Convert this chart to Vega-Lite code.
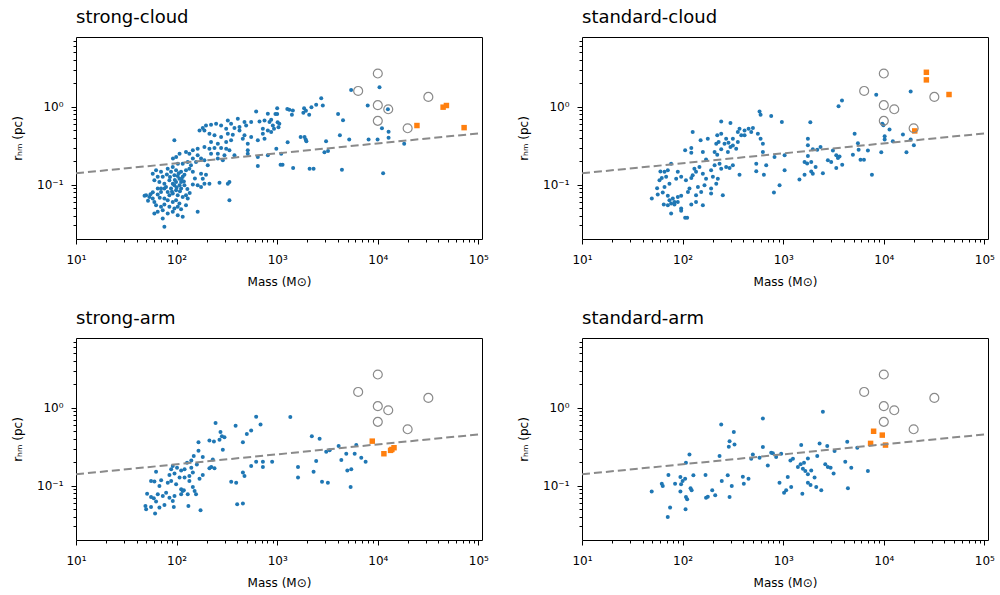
{
"$schema":"https://vega.github.io/schema/vega-lite/v6.json",
"background":"white",
"padding":{"left":11,"top":8,"right":5,"bottom":0},
"datasets":{
"obs":[{"M":6380,"r":1.6},{"M":10000,"r":2.68},{"M":10000,"r":1.05},{"M":10000,"r":0.66},{"M":12700,"r":0.93},{"M":19800,"r":0.53},{"M":31800,"r":1.34}],
"fit":[{"M":10,"r":0.14},{"M":108600,"r":0.46}],
"sim":[
{"p":"sc","k":"b","M":618,"r":0.871},{"p":"sc","k":"b","M":807,"r":0.813},{"p":"sc","k":"b","M":406,"r":0.702},{"p":"sc","k":"b","M":473,"r":0.637},{"p":"sc","k":"b","M":551,"r":0.637},{"p":"sc","k":"b","M":667,"r":0.649},{"p":"sc","k":"b","M":748,"r":0.668},{"p":"sc","k":"b","M":838,"r":0.637},{"p":"sc","k":"b","M":323,"r":0.668},{"p":"sc","k":"b","M":348,"r":0.605},{"p":"sc","k":"b","M":277,"r":0.576},{"p":"sc","k":"b","M":247,"r":0.605},{"p":"sc","k":"b","M":220,"r":0.588},{"p":"sc","k":"b","M":196,"r":0.576},{"p":"sc","k":"b","M":182,"r":0.533},{"p":"sc","k":"b","M":169,"r":0.498},{"p":"sc","k":"b","M":189,"r":0.498},{"p":"sc","k":"b","M":311,"r":0.523},{"p":"sc","k":"b","M":376,"r":0.533},{"p":"sc","k":"b","M":422,"r":0.549},{"p":"sc","k":"b","M":491,"r":0.576},{"p":"sc","k":"b","M":720,"r":0.523},{"p":"sc","k":"b","M":807,"r":0.498},{"p":"sc","k":"b","M":720,"r":0.451},{"p":"sc","k":"b","M":212,"r":0.451},{"p":"sc","k":"b","M":238,"r":0.43},{"p":"sc","k":"b","M":277,"r":0.409},{"p":"sc","k":"b","M":323,"r":0.451},{"p":"sc","k":"b","M":362,"r":0.438},{"p":"sc","k":"b","M":422,"r":0.498},{"p":"sc","k":"b","M":473,"r":0.43},{"p":"sc","k":"b","M":551,"r":0.409},{"p":"sc","k":"b","M":95,"r":0.371},{"p":"sc","k":"b","M":642,"r":0.371},{"p":"sc","k":"b","M":748,"r":0.389},{"p":"sc","k":"b","M":220,"r":0.352},{"p":"sc","k":"b","M":257,"r":0.336},{"p":"sc","k":"b","M":311,"r":0.352},{"p":"sc","k":"b","M":348,"r":0.371},{"p":"sc","k":"b","M":455,"r":0.389},{"p":"sc","k":"b","M":510,"r":0.336},{"p":"sc","k":"b","M":162,"r":0.29},{"p":"sc","k":"b","M":145,"r":0.276},{"p":"sc","k":"b","M":134,"r":0.25},{"p":"sc","k":"b","M":124,"r":0.262},{"p":"sc","k":"b","M":107,"r":0.25},{"p":"sc","k":"b","M":99,"r":0.226},{"p":"sc","k":"b","M":92,"r":0.216},{"p":"sc","k":"b","M":189,"r":0.304},{"p":"sc","k":"b","M":212,"r":0.29},{"p":"sc","k":"b","M":238,"r":0.295},{"p":"sc","k":"b","M":277,"r":0.295},{"p":"sc","k":"b","M":311,"r":0.29},{"p":"sc","k":"b","M":335,"r":0.276},{"p":"sc","k":"b","M":220,"r":0.25},{"p":"sc","k":"b","M":257,"r":0.25},{"p":"sc","k":"b","M":299,"r":0.238},{"p":"sc","k":"b","M":376,"r":0.238},{"p":"sc","k":"b","M":510,"r":0.276},{"p":"sc","k":"b","M":510,"r":0.25},{"p":"sc","k":"b","M":807,"r":0.238},{"p":"sc","k":"b","M":642,"r":0.226},{"p":"sc","k":"b","M":162,"r":0.238},{"p":"sc","k":"b","M":175,"r":0.216},{"p":"sc","k":"b","M":156,"r":0.195},{"p":"sc","k":"b","M":189,"r":0.205},{"p":"sc","k":"b","M":145,"r":0.216},{"p":"sc","k":"b","M":129,"r":0.195},{"p":"sc","k":"b","M":139,"r":0.177},{"p":"sc","k":"b","M":115,"r":0.186},{"p":"sc","k":"b","M":103,"r":0.186},{"p":"sc","k":"b","M":257,"r":0.216},{"p":"sc","k":"b","M":288,"r":0.205},{"p":"sc","k":"b","M":204,"r":0.177},{"p":"sc","k":"b","M":642,"r":0.174},{"p":"sc","k":"b","M":62.5,"r":0.153},{"p":"sc","k":"b","M":70,"r":0.146},{"p":"sc","k":"b","M":57.9,"r":0.138},{"p":"sc","k":"b","M":64.9,"r":0.126},{"p":"sc","k":"b","M":72.8,"r":0.126},{"p":"sc","k":"b","M":81.6,"r":0.16},{"p":"sc","k":"b","M":91.6,"r":0.169},{"p":"sc","k":"b","M":98.8,"r":0.153},{"p":"sc","k":"b","M":110.8,"r":0.146},{"p":"sc","k":"b","M":124,"r":0.153},{"p":"sc","k":"b","M":134,"r":0.16},{"p":"sc","k":"b","M":145,"r":0.146},{"p":"sc","k":"b","M":95.1,"r":0.132},{"p":"sc","k":"b","M":102.6,"r":0.129},{"p":"sc","k":"b","M":106.6,"r":0.119},{"p":"sc","k":"b","M":115,"r":0.126},{"p":"sc","k":"b","M":119.6,"r":0.134},{"p":"sc","k":"b","M":175,"r":0.138},{"p":"sc","k":"b","M":196,"r":0.134},{"p":"sc","k":"b","M":182,"r":0.119},{"p":"sc","k":"b","M":60.1,"r":0.114},{"p":"sc","k":"b","M":67.4,"r":0.108},{"p":"sc","k":"b","M":75.6,"r":0.103},{"p":"sc","k":"b","M":84.8,"r":0.114},{"p":"sc","k":"b","M":91.6,"r":0.103},{"p":"sc","k":"b","M":98.8,"r":0.108},{"p":"sc","k":"b","M":110.8,"r":0.108},{"p":"sc","k":"b","M":119.6,"r":0.098},{"p":"sc","k":"b","M":162,"r":0.098},{"p":"sc","k":"b","M":175,"r":0.0934},{"p":"sc","k":"b","M":189,"r":0.103},{"p":"sc","k":"b","M":212,"r":0.103},{"p":"sc","k":"b","M":267,"r":0.106},{"p":"sc","k":"b","M":335,"r":0.108},{"p":"sc","k":"b","M":323,"r":0.103},{"p":"sc","k":"b","M":49.7,"r":0.073},{"p":"sc","k":"b","M":53.6,"r":0.0695},{"p":"sc","k":"b","M":57.9,"r":0.0662},{"p":"sc","k":"b","M":60.1,"r":0.06},{"p":"sc","k":"b","M":64.9,"r":0.0745},{"p":"sc","k":"b","M":70,"r":0.0806},{"p":"sc","k":"b","M":75.6,"r":0.0889},{"p":"sc","k":"b","M":81.6,"r":0.0806},{"p":"sc","k":"b","M":84.8,"r":0.073},{"p":"sc","k":"b","M":91.6,"r":0.0767},{"p":"sc","k":"b","M":98.8,"r":0.0847},{"p":"sc","k":"b","M":102.6,"r":0.073},{"p":"sc","k":"b","M":115,"r":0.0695},{"p":"sc","k":"b","M":124,"r":0.073},{"p":"sc","k":"b","M":129,"r":0.0662},{"p":"sc","k":"b","M":75.6,"r":0.0662},{"p":"sc","k":"b","M":81.6,"r":0.063},{"p":"sc","k":"b","M":91.6,"r":0.06},{"p":"sc","k":"b","M":98.8,"r":0.063},{"p":"sc","k":"b","M":106.6,"r":0.0571},{"p":"sc","k":"b","M":62.5,"r":0.0544},{"p":"sc","k":"b","M":70,"r":0.0518},{"p":"sc","k":"b","M":75.6,"r":0.0555},{"p":"sc","k":"b","M":84.8,"r":0.0518},{"p":"sc","k":"b","M":95.1,"r":0.0493},{"p":"sc","k":"b","M":102.6,"r":0.0518},{"p":"sc","k":"b","M":110.8,"r":0.0483},{"p":"sc","k":"b","M":124,"r":0.0544},{"p":"sc","k":"b","M":60.1,"r":0.0425},{"p":"sc","k":"b","M":64.9,"r":0.0447},{"p":"sc","k":"b","M":72.8,"r":0.0469},{"p":"sc","k":"b","M":81.6,"r":0.0425},{"p":"sc","k":"b","M":91.6,"r":0.0447},{"p":"sc","k":"b","M":102.6,"r":0.0405},{"p":"sc","k":"b","M":115,"r":0.0385},{"p":"sc","k":"b","M":72.8,"r":0.0367},{"p":"sc","k":"b","M":75.6,"r":0.0287},{"p":"sc","k":"b","M":162,"r":0.0447},{"p":"sc","k":"b","M":335,"r":0.063},
{"p":"sc","k":"b","M":88,"r":0.146},{"p":"sc","k":"b","M":95,"r":0.098},{"p":"sc","k":"b","M":107,"r":0.098},{"p":"sc","k":"b","M":111,"r":0.089},{"p":"sc","k":"b","M":88,"r":0.089},{"p":"sc","k":"b","M":78.5,"r":0.093},{"p":"sc","k":"b","M":70,"r":0.089},{"p":"sc","k":"b","M":65,"r":0.089},{"p":"sc","k":"b","M":105,"r":0.14},{"p":"sc","k":"b","M":112,"r":0.118},{"p":"sc","k":"b","M":96,"r":0.115},{"p":"sc","k":"b","M":86,"r":0.125},{"p":"sc","k":"b","M":80,"r":0.135},{"p":"sc","k":"b","M":118,"r":0.11},{"p":"sc","k":"b","M":100,"r":0.092},{"p":"sc","k":"b","M":108,"r":0.082},{"p":"sc","k":"b","M":90,"r":0.081},{"p":"sc","k":"b","M":55,"r":0.075},{"p":"sc","k":"b","M":58,"r":0.08},{"p":"sc","k":"b","M":52,"r":0.062},{"p":"sc","k":"b","M":68,"r":0.068},{"p":"sc","k":"b","M":128,"r":0.088},{"p":"sc","k":"b","M":135,"r":0.078},{"p":"sc","k":"b","M":145,"r":0.1},{"p":"sc","k":"b","M":152,"r":0.12},{"p":"sc","k":"b","M":48,"r":0.072},
{"p":"sc","k":"b","M":1000,"r":0.96},{"p":"sc","k":"b","M":960,"r":0.81},{"p":"sc","k":"b","M":1000,"r":0.81},{"p":"sc","k":"b","M":871,"r":0.68},{"p":"sc","k":"b","M":905,"r":0.577},{"p":"sc","k":"b","M":1010,"r":0.635},{"p":"sc","k":"b","M":1050,"r":0.605},{"p":"sc","k":"b","M":1030,"r":0.548},{"p":"sc","k":"b","M":930,"r":0.522},{"p":"sc","k":"b","M":871,"r":0.473},{"p":"sc","k":"b","M":1260,"r":0.94},{"p":"sc","k":"b","M":1320,"r":0.92},{"p":"sc","k":"b","M":1430,"r":0.9},{"p":"sc","k":"b","M":1400,"r":0.79},{"p":"sc","k":"b","M":1850,"r":0.96},{"p":"sc","k":"b","M":1930,"r":0.89},{"p":"sc","k":"b","M":1820,"r":0.84},{"p":"sc","k":"b","M":2190,"r":0.99},{"p":"sc","k":"b","M":2440,"r":1.06},{"p":"sc","k":"b","M":2740,"r":1.29},{"p":"sc","k":"b","M":2840,"r":1.04},{"p":"sc","k":"b","M":2080,"r":0.79},{"p":"sc","k":"b","M":4030,"r":0.81},{"p":"sc","k":"b","M":4510,"r":0.67},{"p":"sc","k":"b","M":5430,"r":1.65},{"p":"sc","k":"b","M":7940,"r":1.04},{"p":"sc","k":"b","M":10400,"r":1.78},{"p":"sc","k":"b","M":11000,"r":0.53},{"p":"sc","k":"b","M":12800,"r":0.48},{"p":"sc","k":"b","M":980,"r":0.29},{"p":"sc","k":"b","M":1270,"r":0.35},{"p":"sc","k":"b","M":1710,"r":0.41},{"p":"sc","k":"b","M":1870,"r":0.41},{"p":"sc","k":"b","M":1920,"r":0.38},{"p":"sc","k":"b","M":1950,"r":0.36},{"p":"sc","k":"b","M":3060,"r":0.36},{"p":"sc","k":"b","M":2950,"r":0.26},{"p":"sc","k":"b","M":3200,"r":0.27},{"p":"sc","k":"b","M":4200,"r":0.43},{"p":"sc","k":"b","M":5200,"r":0.38},{"p":"sc","k":"b","M":8100,"r":0.38},{"p":"sc","k":"b","M":9950,"r":0.38},{"p":"sc","k":"b","M":12800,"r":0.4},{"p":"sc","k":"b","M":1130,"r":0.18},{"p":"sc","k":"b","M":1080,"r":0.18},{"p":"sc","k":"b","M":1440,"r":0.164},{"p":"sc","k":"b","M":2100,"r":0.16},{"p":"sc","k":"b","M":2300,"r":0.16},{"p":"sc","k":"b","M":4400,"r":0.155},{"p":"sc","k":"b","M":11300,"r":0.14},{"p":"sc","k":"b","M":12600,"r":0.93},{"p":"sc","k":"b","M":18300,"r":0.336},{"p":"sc","k":"b","M":1096,"r":0.25},
{"p":"sc","k":"o","M":24500,"r":0.575},{"p":"sc","k":"o","M":44600,"r":0.99},{"p":"sc","k":"o","M":48100,"r":1.04},{"p":"sc","k":"o","M":72100,"r":0.54},
{"p":"dc","k":"b","M":582,"r":0.871},{"p":"dc","k":"b","M":596,"r":0.79},{"p":"dc","k":"b","M":760,"r":0.76},{"p":"dc","k":"b","M":970,"r":0.637},{"p":"dc","k":"b","M":242,"r":0.649},{"p":"dc","k":"b","M":299,"r":0.618},{"p":"dc","k":"b","M":126,"r":0.473},{"p":"dc","k":"b","M":151,"r":0.371},{"p":"dc","k":"b","M":178,"r":0.389},{"p":"dc","k":"b","M":221,"r":0.43},{"p":"dc","k":"b","M":242,"r":0.451},{"p":"dc","k":"b","M":228,"r":0.352},{"p":"dc","k":"b","M":216,"r":0.336},{"p":"dc","k":"b","M":261,"r":0.336},{"p":"dc","k":"b","M":271,"r":0.389},{"p":"dc","k":"b","M":286,"r":0.346},{"p":"dc","k":"b","M":316,"r":0.389},{"p":"dc","k":"b","M":354,"r":0.473},{"p":"dc","k":"b","M":368,"r":0.523},{"p":"dc","k":"b","M":413,"r":0.498},{"p":"dc","k":"b","M":453,"r":0.523},{"p":"dc","k":"b","M":481,"r":0.473},{"p":"dc","k":"b","M":500,"r":0.533},{"p":"dc","k":"b","M":106,"r":0.276},{"p":"dc","k":"b","M":122,"r":0.295},{"p":"dc","k":"b","M":122,"r":0.257},{"p":"dc","k":"b","M":159,"r":0.262},{"p":"dc","k":"b","M":171,"r":0.211},{"p":"dc","k":"b","M":208,"r":0.262},{"p":"dc","k":"b","M":221,"r":0.243},{"p":"dc","k":"b","M":242,"r":0.284},{"p":"dc","k":"b","M":282,"r":0.262},{"p":"dc","k":"b","M":299,"r":0.304},{"p":"dc","k":"b","M":316,"r":0.319},{"p":"dc","k":"b","M":341,"r":0.29},{"p":"dc","k":"b","M":354,"r":0.352},{"p":"dc","k":"b","M":383,"r":0.43},{"p":"dc","k":"b","M":413,"r":0.43},{"p":"dc","k":"b","M":560,"r":0.451},{"p":"dc","k":"b","M":596,"r":0.389},{"p":"dc","k":"b","M":628,"r":0.336},{"p":"dc","k":"b","M":628,"r":0.262},{"p":"dc","k":"b","M":540,"r":0.186},{"p":"dc","k":"b","M":678,"r":0.177},{"p":"dc","k":"b","M":820,"r":0.226},{"p":"dc","k":"b","M":1033,"r":0.238},{"p":"dc","k":"b","M":1033,"r":0.153},{"p":"dc","k":"b","M":920,"r":0.098},{"p":"dc","k":"b","M":809,"r":0.079},{"p":"dc","k":"b","M":540,"r":0.149},{"p":"dc","k":"b","M":643,"r":0.134},{"p":"dc","k":"b","M":76.9,"r":0.186},{"p":"dc","k":"b","M":60.2,"r":0.148},{"p":"dc","k":"b","M":66.1,"r":0.146},{"p":"dc","k":"b","M":71.3,"r":0.153},{"p":"dc","k":"b","M":62.1,"r":0.122},{"p":"dc","k":"b","M":58.9,"r":0.114},{"p":"dc","k":"b","M":68.6,"r":0.126},{"p":"dc","k":"b","M":55.8,"r":0.09},{"p":"dc","k":"b","M":66.1,"r":0.0934},{"p":"dc","k":"b","M":74,"r":0.103},{"p":"dc","k":"b","M":86.3,"r":0.119},{"p":"dc","k":"b","M":89.6,"r":0.146},{"p":"dc","k":"b","M":96.8,"r":0.126},{"p":"dc","k":"b","M":108,"r":0.114},{"p":"dc","k":"b","M":122,"r":0.122},{"p":"dc","k":"b","M":126,"r":0.132},{"p":"dc","k":"b","M":136,"r":0.146},{"p":"dc","k":"b","M":131,"r":0.16},{"p":"dc","k":"b","M":147,"r":0.169},{"p":"dc","k":"b","M":159,"r":0.138},{"p":"dc","k":"b","M":171,"r":0.119},{"p":"dc","k":"b","M":200,"r":0.126},{"p":"dc","k":"b","M":192,"r":0.153},{"p":"dc","k":"b","M":208,"r":0.177},{"p":"dc","k":"b","M":233,"r":0.186},{"p":"dc","k":"b","M":242,"r":0.16},{"p":"dc","k":"b","M":271,"r":0.169},{"p":"dc","k":"b","M":293,"r":0.164},{"p":"dc","k":"b","M":316,"r":0.177},{"p":"dc","k":"b","M":368,"r":0.134},{"p":"dc","k":"b","M":49.4,"r":0.0662},{"p":"dc","k":"b","M":56.6,"r":0.0745},{"p":"dc","k":"b","M":63.5,"r":0.079},{"p":"dc","k":"b","M":71.3,"r":0.072},{"p":"dc","k":"b","M":74,"r":0.063},{"p":"dc","k":"b","M":79.9,"r":0.0662},{"p":"dc","k":"b","M":83,"r":0.06},{"p":"dc","k":"b","M":89.6,"r":0.0695},{"p":"dc","k":"b","M":96.8,"r":0.072},{"p":"dc","k":"b","M":117,"r":0.0889},{"p":"dc","k":"b","M":113,"r":0.0806},{"p":"dc","k":"b","M":142,"r":0.0934},{"p":"dc","k":"b","M":153,"r":0.0806},{"p":"dc","k":"b","M":136,"r":0.073},{"p":"dc","k":"b","M":165,"r":0.098},{"p":"dc","k":"b","M":192,"r":0.0889},{"p":"dc","k":"b","M":216,"r":0.103},{"p":"dc","k":"b","M":224,"r":0.119},{"p":"dc","k":"b","M":251,"r":0.073},{"p":"dc","k":"b","M":192,"r":0.0767},{"p":"dc","k":"b","M":65,"r":0.0555},{"p":"dc","k":"b","M":71.3,"r":0.0544},{"p":"dc","k":"b","M":76.9,"r":0.0571},{"p":"dc","k":"b","M":83,"r":0.0555},{"p":"dc","k":"b","M":89.6,"r":0.06},{"p":"dc","k":"b","M":96.8,"r":0.0493},{"p":"dc","k":"b","M":122,"r":0.0555},{"p":"dc","k":"b","M":136,"r":0.06},{"p":"dc","k":"b","M":159,"r":0.0544},{"p":"dc","k":"b","M":76.9,"r":0.0425},{"p":"dc","k":"b","M":96.8,"r":0.046},{"p":"dc","k":"b","M":106,"r":0.0374},{"p":"dc","k":"b","M":111,"r":0.0374},
{"p":"dc","k":"b","M":1860,"r":0.635},{"p":"dc","k":"b","M":3840,"r":1.21},{"p":"dc","k":"b","M":3550,"r":1.02},{"p":"dc","k":"b","M":8410,"r":1.43},{"p":"dc","k":"b","M":18500,"r":1.57},{"p":"dc","k":"b","M":5130,"r":0.451},{"p":"dc","k":"b","M":1760,"r":0.389},{"p":"dc","k":"b","M":9660,"r":0.605},{"p":"dc","k":"b","M":9900,"r":0.58},{"p":"dc","k":"b","M":11400,"r":0.51},{"p":"dc","k":"b","M":10200,"r":0.42},{"p":"dc","k":"b","M":10200,"r":0.38},{"p":"dc","k":"b","M":12300,"r":0.36},{"p":"dc","k":"b","M":15500,"r":0.44},{"p":"dc","k":"b","M":18500,"r":0.38},{"p":"dc","k":"b","M":19900,"r":0.32},{"p":"dc","k":"b","M":16800,"r":0.26},{"p":"dc","k":"b","M":9440,"r":0.26},{"p":"dc","k":"b","M":7620,"r":0.134},{"p":"dc","k":"b","M":5530,"r":0.34},{"p":"dc","k":"b","M":5620,"r":0.28},{"p":"dc","k":"b","M":6950,"r":0.275},{"p":"dc","k":"b","M":4930,"r":0.243},{"p":"dc","k":"b","M":5870,"r":0.209},{"p":"dc","k":"b","M":6350,"r":0.209},{"p":"dc","k":"b","M":3120,"r":0.275},{"p":"dc","k":"b","M":3370,"r":0.238},{"p":"dc","k":"b","M":3500,"r":0.22},{"p":"dc","k":"b","M":3630,"r":0.23},{"p":"dc","k":"b","M":2780,"r":0.205},{"p":"dc","k":"b","M":3000,"r":0.195},{"p":"dc","k":"b","M":3860,"r":0.18},{"p":"dc","k":"b","M":3370,"r":0.164},{"p":"dc","k":"b","M":2350,"r":0.304},{"p":"dc","k":"b","M":2180,"r":0.28},{"p":"dc","k":"b","M":1970,"r":0.285},{"p":"dc","k":"b","M":1760,"r":0.233},{"p":"dc","k":"b","M":1630,"r":0.195},{"p":"dc","k":"b","M":1730,"r":0.187},{"p":"dc","k":"b","M":1900,"r":0.195},{"p":"dc","k":"b","M":2100,"r":0.168},{"p":"dc","k":"b","M":1900,"r":0.148},{"p":"dc","k":"b","M":1970,"r":0.138},{"p":"dc","k":"b","M":2480,"r":0.14},{"p":"dc","k":"b","M":1630,"r":0.134},{"p":"dc","k":"b","M":1450,"r":0.116},{"p":"dc","k":"b","M":1760,"r":0.32},
{"p":"dc","k":"o","M":26500,"r":2.78},{"p":"dc","k":"o","M":26500,"r":2.22},{"p":"dc","k":"o","M":44500,"r":1.44},{"p":"dc","k":"o","M":20300,"r":0.49},
{"p":"sa","k":"b","M":244,"r":0.64},{"p":"sa","k":"b","M":386,"r":0.59},{"p":"sa","k":"b","M":618,"r":0.77},{"p":"sa","k":"b","M":683,"r":0.61},{"p":"sa","k":"b","M":1350,"r":0.76},{"p":"sa","k":"b","M":273,"r":0.49},{"p":"sa","k":"b","M":282,"r":0.43},{"p":"sa","k":"b","M":299,"r":0.42},{"p":"sa","k":"b","M":267,"r":0.39},{"p":"sa","k":"b","M":288,"r":0.29},{"p":"sa","k":"b","M":235,"r":0.37},{"p":"sa","k":"b","M":212,"r":0.38},{"p":"sa","k":"b","M":499,"r":0.46},{"p":"sa","k":"b","M":551,"r":0.51},{"p":"sa","k":"b","M":456,"r":0.36},{"p":"sa","k":"b","M":165,"r":0.36},{"p":"sa","k":"b","M":165,"r":0.28},{"p":"sa","k":"b","M":148,"r":0.24},{"p":"sa","k":"b","M":182,"r":0.233},{"p":"sa","k":"b","M":140,"r":0.211},{"p":"sa","k":"b","M":159,"r":0.187},{"p":"sa","k":"b","M":127,"r":0.197},{"p":"sa","k":"b","M":229,"r":0.217},{"p":"sa","k":"b","M":221,"r":0.173},{"p":"sa","k":"b","M":238,"r":0.167},{"p":"sa","k":"b","M":212,"r":0.167},{"p":"sa","k":"b","M":182,"r":0.137},{"p":"sa","k":"b","M":169,"r":0.123},{"p":"sa","k":"b","M":140,"r":0.17},{"p":"sa","k":"b","M":120,"r":0.162},{"p":"sa","k":"b","M":111,"r":0.157},{"p":"sa","k":"b","M":101,"r":0.17},{"p":"sa","k":"b","M":91.6,"r":0.179},{"p":"sa","k":"b","M":88.3,"r":0.162},{"p":"sa","k":"b","M":95.3,"r":0.143},{"p":"sa","k":"b","M":84.9,"r":0.137},{"p":"sa","k":"b","M":107,"r":0.127},{"p":"sa","k":"b","M":120,"r":0.127},{"p":"sa","k":"b","M":134,"r":0.133},{"p":"sa","k":"b","M":145,"r":0.147},{"p":"sa","k":"b","M":62.5,"r":0.151},{"p":"sa","k":"b","M":55.7,"r":0.115},{"p":"sa","k":"b","M":60.2,"r":0.113},{"p":"sa","k":"b","M":67.5,"r":0.099},{"p":"sa","k":"b","M":70.2,"r":0.117},{"p":"sa","k":"b","M":81.7,"r":0.109},{"p":"sa","k":"b","M":88.3,"r":0.115},{"p":"sa","k":"b","M":98.9,"r":0.104},{"p":"sa","k":"b","M":111,"r":0.0897},{"p":"sa","k":"b","M":118,"r":0.0871},{"p":"sa","k":"b","M":134,"r":0.115},{"p":"sa","k":"b","M":145,"r":0.096},{"p":"sa","k":"b","M":151,"r":0.0854},{"p":"sa","k":"b","M":50.9,"r":0.0789},{"p":"sa","k":"b","M":55.7,"r":0.0715},{"p":"sa","k":"b","M":59.3,"r":0.0687},{"p":"sa","k":"b","M":62.5,"r":0.0623},{"p":"sa","k":"b","M":65,"r":0.0774},{"p":"sa","k":"b","M":72.9,"r":0.0737},{"p":"sa","k":"b","M":78.7,"r":0.0812},{"p":"sa","k":"b","M":84.9,"r":0.0701},{"p":"sa","k":"b","M":91.6,"r":0.0635},{"p":"sa","k":"b","M":95.3,"r":0.0737},{"p":"sa","k":"b","M":111,"r":0.0774},{"p":"sa","k":"b","M":115,"r":0.0854},{"p":"sa","k":"b","M":129,"r":0.0774},{"p":"sa","k":"b","M":156,"r":0.0774},{"p":"sa","k":"b","M":49,"r":0.0548},{"p":"sa","k":"b","M":49.8,"r":0.0497},{"p":"sa","k":"b","M":55.7,"r":0.0532},{"p":"sa","k":"b","M":61.1,"r":0.0438},{"p":"sa","k":"b","M":67.5,"r":0.0522},{"p":"sa","k":"b","M":75.7,"r":0.0565},{"p":"sa","k":"b","M":93.8,"r":0.0532},{"p":"sa","k":"b","M":131,"r":0.0548},{"p":"sa","k":"b","M":173,"r":0.0483},{"p":"sa","k":"b","M":349,"r":0.112},{"p":"sa","k":"b","M":391,"r":0.109},{"p":"sa","k":"b","M":400,"r":0.0575},{"p":"sa","k":"b","M":456,"r":0.0587},{"p":"sa","k":"b","M":456,"r":0.147},{"p":"sa","k":"b","M":473,"r":0.133},{"p":"sa","k":"b","M":551,"r":0.179},{"p":"sa","k":"b","M":618,"r":0.203},{"p":"sa","k":"b","M":721,"r":0.203},{"p":"sa","k":"b","M":721,"r":0.173},{"p":"sa","k":"b","M":891,"r":0.203},{"p":"sa","k":"b","M":1610,"r":0.173},{"p":"sa","k":"b","M":1610,"r":0.127},{"p":"sa","k":"b","M":2300,"r":0.151},{"p":"sa","k":"b","M":2210,"r":0.43},{"p":"sa","k":"b","M":2640,"r":0.4},{"p":"sa","k":"b","M":2790,"r":0.112},{"p":"sa","k":"b","M":3190,"r":0.109},{"p":"sa","k":"b","M":3070,"r":0.273},{"p":"sa","k":"b","M":3320,"r":0.284},{"p":"sa","k":"b","M":4080,"r":0.322},{"p":"sa","k":"b","M":4340,"r":0.213},{"p":"sa","k":"b","M":4860,"r":0.257},{"p":"sa","k":"b","M":4980,"r":0.157},{"p":"sa","k":"b","M":5450,"r":0.162},{"p":"sa","k":"b","M":5370,"r":0.096},{"p":"sa","k":"b","M":5890,"r":0.257},{"p":"sa","k":"b","M":6110,"r":0.332},{"p":"sa","k":"b","M":6850,"r":0.229},{"p":"sa","k":"b","M":7570,"r":0.203},{"p":"sa","k":"b","M":2440,"r":0.207},
{"p":"sa","k":"o","M":8810,"r":0.373},{"p":"sa","k":"o","M":11500,"r":0.257},{"p":"sa","k":"o","M":13400,"r":0.284},{"p":"sa","k":"o","M":13800,"r":0.292},{"p":"sa","k":"o","M":14500,"r":0.307},
{"p":"da","k":"b","M":2480,"r":0.89},{"p":"da","k":"b","M":628,"r":0.73},{"p":"da","k":"b","M":242,"r":0.61},{"p":"da","k":"b","M":323,"r":0.49},{"p":"da","k":"b","M":293,"r":0.373},{"p":"da","k":"b","M":328,"r":0.339},{"p":"da","k":"b","M":288,"r":0.316},{"p":"da","k":"b","M":117,"r":0.252},{"p":"da","k":"b","M":108,"r":0.197},{"p":"da","k":"b","M":233,"r":0.24},{"p":"da","k":"b","M":499,"r":0.252},{"p":"da","k":"b","M":628,"r":0.313},{"p":"da","k":"b","M":760,"r":0.265},{"p":"da","k":"b","M":789,"r":0.26},{"p":"da","k":"b","M":851,"r":0.233},{"p":"da","k":"b","M":955,"r":0.257},{"p":"da","k":"b","M":481,"r":0.222},{"p":"da","k":"b","M":582,"r":0.229},{"p":"da","k":"b","M":703,"r":0.182},{"p":"da","k":"b","M":1510,"r":0.332},{"p":"da","k":"b","M":1180,"r":0.211},{"p":"da","k":"b","M":1250,"r":0.222},{"p":"da","k":"b","M":1610,"r":0.197},{"p":"da","k":"b","M":1760,"r":0.224},{"p":"da","k":"b","M":2180,"r":0.24},{"p":"da","k":"b","M":2300,"r":0.349},{"p":"da","k":"b","M":2740,"r":0.322},{"p":"da","k":"b","M":3240,"r":0.278},{"p":"da","k":"b","M":4330,"r":0.367},{"p":"da","k":"b","M":5450,"r":0.307},{"p":"da","k":"b","M":1400,"r":0.173},{"p":"da","k":"b","M":1490,"r":0.188},{"p":"da","k":"b","M":1570,"r":0.165},{"p":"da","k":"b","M":1660,"r":0.154},{"p":"da","k":"b","M":1760,"r":0.14},{"p":"da","k":"b","M":1900,"r":0.157},{"p":"da","k":"b","M":2050,"r":0.127},{"p":"da","k":"b","M":2620,"r":0.188},{"p":"da","k":"b","M":2780,"r":0.173},{"p":"da","k":"b","M":2960,"r":0.17},{"p":"da","k":"b","M":3170,"r":0.143},{"p":"da","k":"b","M":4140,"r":0.203},{"p":"da","k":"b","M":4750,"r":0.17},{"p":"da","k":"b","M":6950,"r":0.154},{"p":"da","k":"b","M":1760,"r":0.109},{"p":"da","k":"b","M":1870,"r":0.102},{"p":"da","k":"b","M":2130,"r":0.096},{"p":"da","k":"b","M":2390,"r":0.0871},{"p":"da","k":"b","M":1550,"r":0.0789},{"p":"da","k":"b","M":1110,"r":0.129},{"p":"da","k":"b","M":1200,"r":0.096},{"p":"da","k":"b","M":1020,"r":0.0812},{"p":"da","k":"b","M":1070,"r":0.0871},{"p":"da","k":"b","M":919,"r":0.109},{"p":"da","k":"b","M":4400,"r":0.0924},{"p":"da","k":"b","M":49.3,"r":0.0838},{"p":"da","k":"b","M":62.1,"r":0.106},{"p":"da","k":"b","M":63.5,"r":0.099},{"p":"da","k":"b","M":72.3,"r":0.137},{"p":"da","k":"b","M":84.2,"r":0.106},{"p":"da","k":"b","M":95.1,"r":0.129},{"p":"da","k":"b","M":100,"r":0.115},{"p":"da","k":"b","M":96.6,"r":0.104},{"p":"da","k":"b","M":106,"r":0.123},{"p":"da","k":"b","M":128,"r":0.136},{"p":"da","k":"b","M":95.1,"r":0.0838},{"p":"da","k":"b","M":108,"r":0.0715},{"p":"da","k":"b","M":111,"r":0.0668},{"p":"da","k":"b","M":120,"r":0.0924},{"p":"da","k":"b","M":123,"r":0.0871},{"p":"da","k":"b","M":107,"r":0.0497},{"p":"da","k":"b","M":75.1,"r":0.0522},{"p":"da","k":"b","M":71.2,"r":0.0396},{"p":"da","k":"b","M":169,"r":0.137},{"p":"da","k":"b","M":171,"r":0.0701},{"p":"da","k":"b","M":178,"r":0.0722},{"p":"da","k":"b","M":197,"r":0.0871},{"p":"da","k":"b","M":211,"r":0.0752},{"p":"da","k":"b","M":245,"r":0.115},{"p":"da","k":"b","M":281,"r":0.136},{"p":"da","k":"b","M":293,"r":0.0715},{"p":"da","k":"b","M":308,"r":0.099},{"p":"da","k":"b","M":397,"r":0.13},{"p":"da","k":"b","M":406,"r":0.106},{"p":"da","k":"b","M":452,"r":0.123},
{"p":"da","k":"o","M":7920,"r":0.5},{"p":"da","k":"o","M":9660,"r":0.446},{"p":"da","k":"o","M":7390,"r":0.349},{"p":"da","k":"o","M":10400,"r":0.332}
]},
"concat":[
{"title":"strong-cloud","width":406,"height":202,"layer":[
{"data":{"name":"sim"},"transform":[{"filter":"datum.p=='sc'&&datum.k=='b'"}],"mark":{"type":"circle","size":16,"color":"#1f77b4","opacity":1},"encoding":{"x":{"field":"M","type":"quantitative","scale":{"type":"log","domain":[10,108600],"nice":false},"axis":{"values":[10,20,30,40,50,60,70,80,90,100,200,300,400,500,600,700,800,900,1000,2000,3000,4000,5000,6000,7000,8000,9000,10000,20000,30000,40000,50000,60000,70000,80000,90000,100000],"labelExpr":"datum.value==10?'10¹':datum.value==100?'10²':datum.value==1000?'10³':datum.value==10000?'10⁴':datum.value==100000?'10⁵':''","tickSize":{"condition":{"test":"datum.value==10||datum.value==100||datum.value==1000||datum.value==10000||datum.value==100000","value":5},"value":3},"title":"Mass (M⊙)"}},"y":{"field":"r","type":"quantitative","scale":{"type":"log","domain":[0.02,7.9],"nice":false},"axis":{"values":[0.03,0.04,0.05,0.06,0.07,0.08,0.09,0.1,0.2,0.3,0.4,0.5,0.6,0.7,0.8,0.9,1,2,3,4,5,6,7],"labelExpr":"datum.value==0.1?'10⁻¹':datum.value==1?'10⁰':''","tickSize":{"condition":{"test":"datum.value==0.1||datum.value==1","value":5},"value":3},"title":"rₕₘ (pc)"}}}},
{"data":{"name":"sim"},"transform":[{"filter":"datum.p=='sc'&&datum.k=='o'"}],"mark":{"type":"square","size":30,"color":"#ff7f0e","opacity":1},"encoding":{"x":{"field":"M","type":"quantitative","scale":{"type":"log","domain":[10,108600],"nice":false}},"y":{"field":"r","type":"quantitative","scale":{"type":"log","domain":[0.02,7.9],"nice":false}}}},
{"data":{"name":"obs"},"mark":{"type":"point","size":80,"color":"#8a8a8a","strokeWidth":1.2,"opacity":1},"encoding":{"x":{"field":"M","type":"quantitative","scale":{"type":"log","domain":[10,108600],"nice":false}},"y":{"field":"r","type":"quantitative","scale":{"type":"log","domain":[0.02,7.9],"nice":false}}}},
{"data":{"name":"fit"},"mark":{"type":"line","color":"#8a8a8a","strokeWidth":2,"strokeDash":[8,4]},"encoding":{"x":{"field":"M","type":"quantitative","scale":{"type":"log","domain":[10,108600],"nice":false}},"y":{"field":"r","type":"quantitative","scale":{"type":"log","domain":[0.02,7.9],"nice":false}}}}
]},
{"title":"standard-cloud","width":406,"height":202,"layer":[
{"data":{"name":"sim"},"transform":[{"filter":"datum.p=='dc'&&datum.k=='b'"}],"mark":{"type":"circle","size":16,"color":"#1f77b4","opacity":1},"encoding":{"x":{"field":"M","type":"quantitative","scale":{"type":"log","domain":[10,108600],"nice":false},"axis":{"values":[10,20,30,40,50,60,70,80,90,100,200,300,400,500,600,700,800,900,1000,2000,3000,4000,5000,6000,7000,8000,9000,10000,20000,30000,40000,50000,60000,70000,80000,90000,100000],"labelExpr":"datum.value==10?'10¹':datum.value==100?'10²':datum.value==1000?'10³':datum.value==10000?'10⁴':datum.value==100000?'10⁵':''","tickSize":{"condition":{"test":"datum.value==10||datum.value==100||datum.value==1000||datum.value==10000||datum.value==100000","value":5},"value":3},"title":"Mass (M⊙)"}},"y":{"field":"r","type":"quantitative","scale":{"type":"log","domain":[0.02,7.9],"nice":false},"axis":{"values":[0.03,0.04,0.05,0.06,0.07,0.08,0.09,0.1,0.2,0.3,0.4,0.5,0.6,0.7,0.8,0.9,1,2,3,4,5,6,7],"labelExpr":"datum.value==0.1?'10⁻¹':datum.value==1?'10⁰':''","tickSize":{"condition":{"test":"datum.value==0.1||datum.value==1","value":5},"value":3},"title":"rₕₘ (pc)"}}}},
{"data":{"name":"sim"},"transform":[{"filter":"datum.p=='dc'&&datum.k=='o'"}],"mark":{"type":"square","size":30,"color":"#ff7f0e","opacity":1},"encoding":{"x":{"field":"M","type":"quantitative","scale":{"type":"log","domain":[10,108600],"nice":false}},"y":{"field":"r","type":"quantitative","scale":{"type":"log","domain":[0.02,7.9],"nice":false}}}},
{"data":{"name":"obs"},"mark":{"type":"point","size":80,"color":"#8a8a8a","strokeWidth":1.2,"opacity":1},"encoding":{"x":{"field":"M","type":"quantitative","scale":{"type":"log","domain":[10,108600],"nice":false}},"y":{"field":"r","type":"quantitative","scale":{"type":"log","domain":[0.02,7.9],"nice":false}}}},
{"data":{"name":"fit"},"mark":{"type":"line","color":"#8a8a8a","strokeWidth":2,"strokeDash":[8,4]},"encoding":{"x":{"field":"M","type":"quantitative","scale":{"type":"log","domain":[10,108600],"nice":false}},"y":{"field":"r","type":"quantitative","scale":{"type":"log","domain":[0.02,7.9],"nice":false}}}}
]},
{"title":"strong-arm","width":406,"height":202,"layer":[
{"data":{"name":"sim"},"transform":[{"filter":"datum.p=='sa'&&datum.k=='b'"}],"mark":{"type":"circle","size":16,"color":"#1f77b4","opacity":1},"encoding":{"x":{"field":"M","type":"quantitative","scale":{"type":"log","domain":[10,108600],"nice":false},"axis":{"values":[10,20,30,40,50,60,70,80,90,100,200,300,400,500,600,700,800,900,1000,2000,3000,4000,5000,6000,7000,8000,9000,10000,20000,30000,40000,50000,60000,70000,80000,90000,100000],"labelExpr":"datum.value==10?'10¹':datum.value==100?'10²':datum.value==1000?'10³':datum.value==10000?'10⁴':datum.value==100000?'10⁵':''","tickSize":{"condition":{"test":"datum.value==10||datum.value==100||datum.value==1000||datum.value==10000||datum.value==100000","value":5},"value":3},"title":"Mass (M⊙)"}},"y":{"field":"r","type":"quantitative","scale":{"type":"log","domain":[0.02,7.9],"nice":false},"axis":{"values":[0.03,0.04,0.05,0.06,0.07,0.08,0.09,0.1,0.2,0.3,0.4,0.5,0.6,0.7,0.8,0.9,1,2,3,4,5,6,7],"labelExpr":"datum.value==0.1?'10⁻¹':datum.value==1?'10⁰':''","tickSize":{"condition":{"test":"datum.value==0.1||datum.value==1","value":5},"value":3},"title":"rₕₘ (pc)"}}}},
{"data":{"name":"sim"},"transform":[{"filter":"datum.p=='sa'&&datum.k=='o'"}],"mark":{"type":"square","size":30,"color":"#ff7f0e","opacity":1},"encoding":{"x":{"field":"M","type":"quantitative","scale":{"type":"log","domain":[10,108600],"nice":false}},"y":{"field":"r","type":"quantitative","scale":{"type":"log","domain":[0.02,7.9],"nice":false}}}},
{"data":{"name":"obs"},"mark":{"type":"point","size":80,"color":"#8a8a8a","strokeWidth":1.2,"opacity":1},"encoding":{"x":{"field":"M","type":"quantitative","scale":{"type":"log","domain":[10,108600],"nice":false}},"y":{"field":"r","type":"quantitative","scale":{"type":"log","domain":[0.02,7.9],"nice":false}}}},
{"data":{"name":"fit"},"mark":{"type":"line","color":"#8a8a8a","strokeWidth":2,"strokeDash":[8,4]},"encoding":{"x":{"field":"M","type":"quantitative","scale":{"type":"log","domain":[10,108600],"nice":false}},"y":{"field":"r","type":"quantitative","scale":{"type":"log","domain":[0.02,7.9],"nice":false}}}}
]},
{"title":"standard-arm","width":406,"height":202,"layer":[
{"data":{"name":"sim"},"transform":[{"filter":"datum.p=='da'&&datum.k=='b'"}],"mark":{"type":"circle","size":16,"color":"#1f77b4","opacity":1},"encoding":{"x":{"field":"M","type":"quantitative","scale":{"type":"log","domain":[10,108600],"nice":false},"axis":{"values":[10,20,30,40,50,60,70,80,90,100,200,300,400,500,600,700,800,900,1000,2000,3000,4000,5000,6000,7000,8000,9000,10000,20000,30000,40000,50000,60000,70000,80000,90000,100000],"labelExpr":"datum.value==10?'10¹':datum.value==100?'10²':datum.value==1000?'10³':datum.value==10000?'10⁴':datum.value==100000?'10⁵':''","tickSize":{"condition":{"test":"datum.value==10||datum.value==100||datum.value==1000||datum.value==10000||datum.value==100000","value":5},"value":3},"title":"Mass (M⊙)"}},"y":{"field":"r","type":"quantitative","scale":{"type":"log","domain":[0.02,7.9],"nice":false},"axis":{"values":[0.03,0.04,0.05,0.06,0.07,0.08,0.09,0.1,0.2,0.3,0.4,0.5,0.6,0.7,0.8,0.9,1,2,3,4,5,6,7],"labelExpr":"datum.value==0.1?'10⁻¹':datum.value==1?'10⁰':''","tickSize":{"condition":{"test":"datum.value==0.1||datum.value==1","value":5},"value":3},"title":"rₕₘ (pc)"}}}},
{"data":{"name":"sim"},"transform":[{"filter":"datum.p=='da'&&datum.k=='o'"}],"mark":{"type":"square","size":30,"color":"#ff7f0e","opacity":1},"encoding":{"x":{"field":"M","type":"quantitative","scale":{"type":"log","domain":[10,108600],"nice":false}},"y":{"field":"r","type":"quantitative","scale":{"type":"log","domain":[0.02,7.9],"nice":false}}}},
{"data":{"name":"obs"},"mark":{"type":"point","size":80,"color":"#8a8a8a","strokeWidth":1.2,"opacity":1},"encoding":{"x":{"field":"M","type":"quantitative","scale":{"type":"log","domain":[10,108600],"nice":false}},"y":{"field":"r","type":"quantitative","scale":{"type":"log","domain":[0.02,7.9],"nice":false}}}},
{"data":{"name":"fit"},"mark":{"type":"line","color":"#8a8a8a","strokeWidth":2,"strokeDash":[8,4]},"encoding":{"x":{"field":"M","type":"quantitative","scale":{"type":"log","domain":[10,108600],"nice":false}},"y":{"field":"r","type":"quantitative","scale":{"type":"log","domain":[0.02,7.9],"nice":false}}}}
]}
],
"columns":2,
"spacing":{"row":99,"column":100},
"bounds":"flush",
"config":{
"font":"DejaVu Sans",
"view":{"stroke":"#000","strokeWidth":1},
"axis":{"grid":false,"domain":false,"tickColor":"#000","tickWidth":1,"labelColor":"#000","titleColor":"#000","labelFontSize":12,"titleFontSize":12,"titleFontWeight":"normal","labelOverlap":false,"labelFlush":false,"labelFont":"DejaVu Sans","titleFont":"DejaVu Sans"},
"axisX":{"labelPadding":10,"titlePadding":11},
"axisY":{"labelPadding":8,"titlePadding":12},
"title":{"fontSize":18,"fontWeight":"normal","anchor":"start","offset":8,"color":"#000","font":"DejaVu Sans","frame":"group"}
}
}
